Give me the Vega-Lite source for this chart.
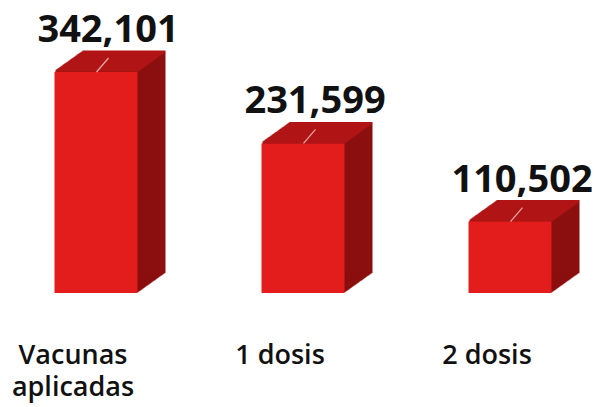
{
  "$schema": "https://vega.github.io/schema/vega-lite/v6.json",
  "width": 600,
  "height": 293,
  "autosize": "none",
  "padding": {"left": 3, "top": 0, "right": 0, "bottom": 114},
  "background": "white",
  "config": {"view": {"stroke": null}},
  "data": {"values": [
    {"cat": "Vacunas aplicadas", "value": 342101},
    {"cat": "1 dosis", "value": 231599},
    {"cat": "2 dosis", "value": 110502}
  ]},
  "encoding": {
    "x": {"field": "cat", "type": "nominal", "sort": null,
      "scale": {"paddingInner": 0.599, "paddingOuter": 0.2488},
      "axis": {"title": null, "domain": false, "ticks": false, "grid": false, "labelAngle": 0,
        "labelFont": "Open Sans", "labelFontSize": 27, "labelFontWeight": 600, "labelColor": "#111111",
        "labelPadding": 70, "labelBaseline": "alphabetic", "labelOffset": -23, "labelLimit": 0, "labelLineHeight": 32,
        "labelExpr": "datum.label == 'Vacunas aplicadas' ? ['Vacunas', 'aplicadas'] : datum.label"}},
    "y": {"field": "value", "type": "quantitative", "scale": {"domain": [0, 453560], "nice": false}, "axis": null}
  },
  "layer": [
    {"mark": {"type": "bar", "color": "#8b0f0f", "xOffset": 1, "yOffset": -0.71}},
    {"mark": {"type": "bar", "color": "#8b0f0f", "xOffset": 2, "yOffset": -1.43}},
    {"mark": {"type": "bar", "color": "#8b0f0f", "xOffset": 3, "yOffset": -2.14}},
    {"mark": {"type": "bar", "color": "#8b0f0f", "xOffset": 4, "yOffset": -2.86}},
    {"mark": {"type": "bar", "color": "#8b0f0f", "xOffset": 5, "yOffset": -3.57}},
    {"mark": {"type": "bar", "color": "#8b0f0f", "xOffset": 6, "yOffset": -4.29}},
    {"mark": {"type": "bar", "color": "#8b0f0f", "xOffset": 7, "yOffset": -5}},
    {"mark": {"type": "bar", "color": "#8b0f0f", "xOffset": 8, "yOffset": -5.71}},
    {"mark": {"type": "bar", "color": "#8b0f0f", "xOffset": 9, "yOffset": -6.43}},
    {"mark": {"type": "bar", "color": "#8b0f0f", "xOffset": 10, "yOffset": -7.14}},
    {"mark": {"type": "bar", "color": "#8b0f0f", "xOffset": 11, "yOffset": -7.86}},
    {"mark": {"type": "bar", "color": "#8b0f0f", "xOffset": 12, "yOffset": -8.57}},
    {"mark": {"type": "bar", "color": "#8b0f0f", "xOffset": 13, "yOffset": -9.29}},
    {"mark": {"type": "bar", "color": "#8b0f0f", "xOffset": 14, "yOffset": -10}},
    {"mark": {"type": "bar", "color": "#8b0f0f", "xOffset": 15, "yOffset": -10.71}},
    {"mark": {"type": "bar", "color": "#8b0f0f", "xOffset": 16, "yOffset": -11.43}},
    {"mark": {"type": "bar", "color": "#8b0f0f", "xOffset": 17, "yOffset": -12.14}},
    {"mark": {"type": "bar", "color": "#8b0f0f", "xOffset": 18, "yOffset": -12.86}},
    {"mark": {"type": "bar", "color": "#8b0f0f", "xOffset": 19, "yOffset": -13.57}},
    {"mark": {"type": "bar", "color": "#8b0f0f", "xOffset": 20, "yOffset": -14.29}},
    {"mark": {"type": "bar", "color": "#8b0f0f", "xOffset": 21, "yOffset": -15}},
    {"mark": {"type": "bar", "color": "#8b0f0f", "xOffset": 22, "yOffset": -15.71}},
    {"mark": {"type": "bar", "color": "#8b0f0f", "xOffset": 23, "yOffset": -16.43}},
    {"mark": {"type": "bar", "color": "#8b0f0f", "xOffset": 24, "yOffset": -17.14}},
    {"mark": {"type": "bar", "color": "#8b0f0f", "xOffset": 25, "yOffset": -17.86}},
    {"mark": {"type": "bar", "color": "#8b0f0f", "xOffset": 26, "yOffset": -18.57}},
    {"mark": {"type": "bar", "color": "#8b0f0f", "xOffset": 27, "yOffset": -19.29}},
    {"mark": {"type": "bar", "color": "#8b0f0f", "xOffset": 28, "yOffset": -20}},
    {"mark": {"type": "tick", "color": "#b01414", "opacity": 1, "size": 83, "thickness": 2, "xOffset": 1, "yOffset": -1.21}},
    {"mark": {"type": "tick", "color": "#b01414", "opacity": 1, "size": 83, "thickness": 2, "xOffset": 2, "yOffset": -1.93}},
    {"mark": {"type": "tick", "color": "#b01414", "opacity": 1, "size": 83, "thickness": 2, "xOffset": 3, "yOffset": -2.64}},
    {"mark": {"type": "tick", "color": "#b01414", "opacity": 1, "size": 83, "thickness": 2, "xOffset": 4, "yOffset": -3.36}},
    {"mark": {"type": "tick", "color": "#b01414", "opacity": 1, "size": 83, "thickness": 2, "xOffset": 5, "yOffset": -4.07}},
    {"mark": {"type": "tick", "color": "#b01414", "opacity": 1, "size": 83, "thickness": 2, "xOffset": 6, "yOffset": -4.79}},
    {"mark": {"type": "tick", "color": "#b01414", "opacity": 1, "size": 83, "thickness": 2, "xOffset": 7, "yOffset": -5.5}},
    {"mark": {"type": "tick", "color": "#b01414", "opacity": 1, "size": 83, "thickness": 2, "xOffset": 8, "yOffset": -6.21}},
    {"mark": {"type": "tick", "color": "#b01414", "opacity": 1, "size": 83, "thickness": 2, "xOffset": 9, "yOffset": -6.93}},
    {"mark": {"type": "tick", "color": "#b01414", "opacity": 1, "size": 83, "thickness": 2, "xOffset": 10, "yOffset": -7.64}},
    {"mark": {"type": "tick", "color": "#b01414", "opacity": 1, "size": 83, "thickness": 2, "xOffset": 11, "yOffset": -8.36}},
    {"mark": {"type": "tick", "color": "#b01414", "opacity": 1, "size": 83, "thickness": 2, "xOffset": 12, "yOffset": -9.07}},
    {"mark": {"type": "tick", "color": "#b01414", "opacity": 1, "size": 83, "thickness": 2, "xOffset": 13, "yOffset": -9.79}},
    {"mark": {"type": "tick", "color": "#b01414", "opacity": 1, "size": 83, "thickness": 2, "xOffset": 14, "yOffset": -10.5}},
    {"mark": {"type": "tick", "color": "#b01414", "opacity": 1, "size": 83, "thickness": 2, "xOffset": 15, "yOffset": -11.21}},
    {"mark": {"type": "tick", "color": "#b01414", "opacity": 1, "size": 83, "thickness": 2, "xOffset": 16, "yOffset": -11.93}},
    {"mark": {"type": "tick", "color": "#b01414", "opacity": 1, "size": 83, "thickness": 2, "xOffset": 17, "yOffset": -12.64}},
    {"mark": {"type": "tick", "color": "#b01414", "opacity": 1, "size": 83, "thickness": 2, "xOffset": 18, "yOffset": -13.36}},
    {"mark": {"type": "tick", "color": "#b01414", "opacity": 1, "size": 83, "thickness": 2, "xOffset": 19, "yOffset": -14.07}},
    {"mark": {"type": "tick", "color": "#b01414", "opacity": 1, "size": 83, "thickness": 2, "xOffset": 20, "yOffset": -14.79}},
    {"mark": {"type": "tick", "color": "#b01414", "opacity": 1, "size": 83, "thickness": 2, "xOffset": 21, "yOffset": -15.5}},
    {"mark": {"type": "tick", "color": "#b01414", "opacity": 1, "size": 83, "thickness": 2, "xOffset": 22, "yOffset": -16.21}},
    {"mark": {"type": "tick", "color": "#b01414", "opacity": 1, "size": 83, "thickness": 2, "xOffset": 23, "yOffset": -16.93}},
    {"mark": {"type": "tick", "color": "#b01414", "opacity": 1, "size": 83, "thickness": 2, "xOffset": 24, "yOffset": -17.64}},
    {"mark": {"type": "tick", "color": "#b01414", "opacity": 1, "size": 83, "thickness": 2, "xOffset": 25, "yOffset": -18.36}},
    {"mark": {"type": "tick", "color": "#b01414", "opacity": 1, "size": 83, "thickness": 2, "xOffset": 26, "yOffset": -19.07}},
    {"mark": {"type": "tick", "color": "#b01414", "opacity": 1, "size": 83, "thickness": 2, "xOffset": 27, "yOffset": -19.79}},
    {"mark": {"type": "tick", "color": "#b01414", "opacity": 1, "size": 83, "thickness": 2, "xOffset": 28, "yOffset": -20.5}},
    {"mark": {"type": "bar", "color": "#e31c1c"}},
    {"mark": {"type": "point", "shape": "M-0.857,1L0.857,-1", "size": 196, "filled": false, "stroke": "#e6a3a3", "strokeWidth": 1.3, "opacity": 1, "xOffset": 6.5, "yOffset": -7}},
    {"mark": {"type": "text", "font": "Open Sans", "fontSize": 38, "fontWeight": "bold", "color": "#111111", "baseline": "alphabetic", "align": "center", "dx": 12, "dy": -30},
     "encoding": {"text": {"field": "value", "type": "quantitative", "format": ",d"}}}
  ]
}
